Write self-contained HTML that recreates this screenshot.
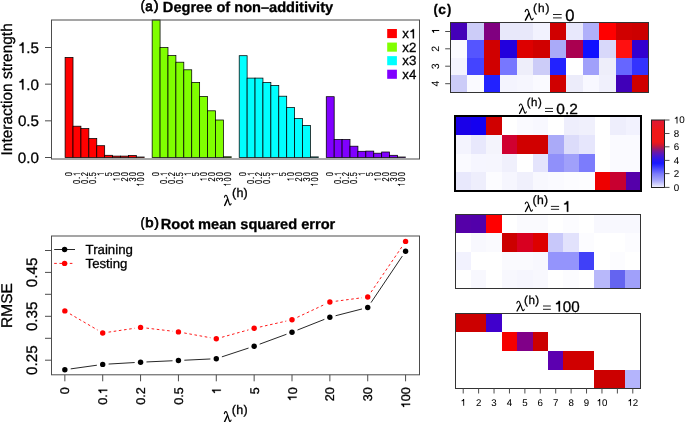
<!DOCTYPE html>
<html><head><meta charset="utf-8"><style>
html,body{margin:0;padding:0;background:#fff;width:685px;height:422px;overflow:hidden}
svg{display:block;will-change:transform}
text{font-family:"Liberation Sans", sans-serif;fill:#000;stroke:#000;stroke-width:0.3px;text-rendering:geometricPrecision}
.hv text{stroke-width:0.75px}
text.sm{stroke-width:0.05px}
.bl text.sm{stroke-width:0.15px}
</style></head><body>
<svg xmlns="http://www.w3.org/2000/svg" width="685" height="422" viewBox="0 0 685 422">
<rect width="685" height="422" fill="#fff"/>
<g class="hv">
<text transform="translate(140.82 9.69) scale(0.847 1)" font-size="13.37">(</text>
<text transform="translate(145.36 10.86) scale(0.945 1)" font-size="14.18">a</text>
<text transform="translate(153.93 9.69) scale(1.016 1)" font-size="13.37">)</text>
</g>
<text transform="translate(162.85 11.80)" font-size="14.60" font-weight="bold">Degree of non–additivity</text>
<g stroke="#000" stroke-width="0.75">
<rect x="65.10" y="57.40" width="7.91" height="100.10" fill="#FF0000"/>
<rect x="73.02" y="126.20" width="7.91" height="31.30" fill="#FF0000"/>
<rect x="80.93" y="128.60" width="7.91" height="28.90" fill="#FF0000"/>
<rect x="88.85" y="138.50" width="7.91" height="19.00" fill="#FF0000"/>
<rect x="96.76" y="145.70" width="7.91" height="11.80" fill="#FF0000"/>
<rect x="104.67" y="155.30" width="7.91" height="2.20" fill="#FF0000"/>
<rect x="112.59" y="156.10" width="7.91" height="1.40" fill="#FF0000"/>
<rect x="120.50" y="156.10" width="7.91" height="1.40" fill="#FF0000"/>
<rect x="128.42" y="155.50" width="7.91" height="2.00" fill="#FF0000"/>
<rect x="136.33" y="157.00" width="7.91" height="0.50" fill="#FF0000"/>
<rect x="152.16" y="20.00" width="7.91" height="137.50" fill="#80FF00"/>
<rect x="160.07" y="47.60" width="7.91" height="109.90" fill="#80FF00"/>
<rect x="167.99" y="55.60" width="7.91" height="101.90" fill="#80FF00"/>
<rect x="175.90" y="62.20" width="7.91" height="95.30" fill="#80FF00"/>
<rect x="183.81" y="69.80" width="7.91" height="87.70" fill="#80FF00"/>
<rect x="191.73" y="82.40" width="7.91" height="75.10" fill="#80FF00"/>
<rect x="199.64" y="96.50" width="7.91" height="61.00" fill="#80FF00"/>
<rect x="207.56" y="110.80" width="7.91" height="46.70" fill="#80FF00"/>
<rect x="215.47" y="120.00" width="7.91" height="37.50" fill="#80FF00"/>
<rect x="223.38" y="156.80" width="7.91" height="0.70" fill="#80FF00"/>
<rect x="239.21" y="55.70" width="7.91" height="101.80" fill="#00FFFF"/>
<rect x="247.13" y="78.10" width="7.91" height="79.40" fill="#00FFFF"/>
<rect x="255.04" y="78.10" width="7.91" height="79.40" fill="#00FFFF"/>
<rect x="262.95" y="82.50" width="7.91" height="75.00" fill="#00FFFF"/>
<rect x="270.87" y="85.40" width="7.91" height="72.10" fill="#00FFFF"/>
<rect x="278.78" y="96.20" width="7.91" height="61.30" fill="#00FFFF"/>
<rect x="286.70" y="107.50" width="7.91" height="50.00" fill="#00FFFF"/>
<rect x="294.61" y="118.50" width="7.91" height="39.00" fill="#00FFFF"/>
<rect x="302.52" y="125.40" width="7.91" height="32.10" fill="#00FFFF"/>
<rect x="310.44" y="156.90" width="7.91" height="0.60" fill="#00FFFF"/>
<rect x="326.27" y="96.70" width="7.91" height="60.80" fill="#8000FF"/>
<rect x="334.18" y="139.50" width="7.91" height="18.00" fill="#8000FF"/>
<rect x="342.09" y="139.50" width="7.91" height="18.00" fill="#8000FF"/>
<rect x="350.01" y="146.20" width="7.91" height="11.30" fill="#8000FF"/>
<rect x="357.92" y="151.30" width="7.91" height="6.20" fill="#8000FF"/>
<rect x="365.84" y="151.10" width="7.91" height="6.40" fill="#8000FF"/>
<rect x="373.75" y="153.20" width="7.91" height="4.30" fill="#8000FF"/>
<rect x="381.66" y="152.00" width="7.91" height="5.50" fill="#8000FF"/>
<rect x="389.58" y="155.30" width="7.91" height="2.20" fill="#8000FF"/>
<rect x="397.49" y="157.00" width="7.91" height="0.50" fill="#8000FF"/>
</g>
<rect x="51.5" y="20" width="368" height="139" fill="none" stroke="#4d4d4d" stroke-width="1"/>
<path d="M45 157.5 H51.5" stroke="#4d4d4d" stroke-width="1"/>
<text transform="translate(17.80 162.90)" font-size="15.20">0.0</text>
<path d="M45 120.83 H51.5" stroke="#4d4d4d" stroke-width="1"/>
<text transform="translate(17.88 126.23)" font-size="15.20">0.5</text>
<path d="M45 84.17 H51.5" stroke="#4d4d4d" stroke-width="1"/>
<text transform="translate(17.80 89.57)" font-size="15.20" style="font-kerning:none"> .0</text><path transform="translate(17.80 89.57) translate(0.000 0) scale(0.00742 -0.00742)" d="M763,0 L583,0 L583,1000 Q420,1000 223,960 L223,1110 Q420,1150 500,1260 Q545,1330 560,1409 L763,1409 Z" stroke="#000" stroke-width="0.3" vector-effect="non-scaling-stroke"/>
<path d="M45 47.5 H51.5" stroke="#4d4d4d" stroke-width="1"/>
<text transform="translate(17.88 52.90)" font-size="15.20" style="font-kerning:none"> .5</text><path transform="translate(17.88 52.90) translate(0.000 0) scale(0.00742 -0.00742)" d="M763,0 L583,0 L583,1000 Q420,1000 223,960 L223,1110 Q420,1150 500,1260 Q545,1330 560,1409 L763,1409 Z" stroke="#000" stroke-width="0.3" vector-effect="non-scaling-stroke"/>
<text transform="translate(11.60 155.42) rotate(-90)" font-size="15.45">Interaction strength</text>
<g class="bl"><text transform="translate(72.31 176.71) rotate(-90) translate(2.628 0) scale(0.74 1) translate(-2.781 0)" font-size="10.00" class="sm">0</text></g>
<g class="bl"><text transform="translate(80.22 184.59) rotate(-90) translate(2.628 0) scale(0.74 1) translate(-2.781 0)" font-size="10.00" class="sm">0</text><text transform="translate(80.22 184.59) rotate(-90) translate(6.568 0) scale(0.74 1) translate(-1.389 0)" font-size="10.00" class="sm">.</text><text transform="translate(80.22 184.59) rotate(-90) translate(10.509 0) scale(0.74 1) translate(-2.781 0)" font-size="10.00" class="sm" style="font-kerning:none"> </text><path transform="translate(80.22 184.59) rotate(-90) translate(10.509 0) scale(0.74 1) translate(-2.781 0) translate(0.000 0) scale(0.00488 -0.00488)" d="M763,0 L583,0 L583,1000 Q420,1000 223,960 L223,1110 Q420,1150 500,1260 Q545,1330 560,1409 L763,1409 Z" stroke="#000" stroke-width="0.05" vector-effect="non-scaling-stroke"/></g>
<g class="bl"><text transform="translate(88.14 184.59) rotate(-90) translate(2.628 0) scale(0.74 1) translate(-2.781 0)" font-size="10.00" class="sm">0</text><text transform="translate(88.14 184.59) rotate(-90) translate(6.568 0) scale(0.74 1) translate(-1.389 0)" font-size="10.00" class="sm">.</text><text transform="translate(88.14 184.59) rotate(-90) translate(10.509 0) scale(0.74 1) translate(-2.781 0)" font-size="10.00" class="sm">2</text></g>
<g class="bl"><text transform="translate(96.05 184.59) rotate(-90) translate(2.628 0) scale(0.74 1) translate(-2.781 0)" font-size="10.00" class="sm">0</text><text transform="translate(96.05 184.59) rotate(-90) translate(6.568 0) scale(0.74 1) translate(-1.389 0)" font-size="10.00" class="sm">.</text><text transform="translate(96.05 184.59) rotate(-90) translate(10.509 0) scale(0.74 1) translate(-2.781 0)" font-size="10.00" class="sm">5</text></g>
<g class="bl"><text transform="translate(103.97 176.71) rotate(-90) translate(2.628 0) scale(0.74 1) translate(-2.781 0)" font-size="10.00" class="sm" style="font-kerning:none"> </text><path transform="translate(103.97 176.71) rotate(-90) translate(2.628 0) scale(0.74 1) translate(-2.781 0) translate(0.000 0) scale(0.00488 -0.00488)" d="M763,0 L583,0 L583,1000 Q420,1000 223,960 L223,1110 Q420,1150 500,1260 Q545,1330 560,1409 L763,1409 Z" stroke="#000" stroke-width="0.05" vector-effect="non-scaling-stroke"/></g>
<g class="bl"><text transform="translate(111.88 176.71) rotate(-90) translate(2.628 0) scale(0.74 1) translate(-2.781 0)" font-size="10.00" class="sm">5</text></g>
<g class="bl"><text transform="translate(119.79 181.96) rotate(-90) translate(2.628 0) scale(0.74 1) translate(-2.781 0)" font-size="10.00" class="sm" style="font-kerning:none"> </text><path transform="translate(119.79 181.96) rotate(-90) translate(2.628 0) scale(0.74 1) translate(-2.781 0) translate(0.000 0) scale(0.00488 -0.00488)" d="M763,0 L583,0 L583,1000 Q420,1000 223,960 L223,1110 Q420,1150 500,1260 Q545,1330 560,1409 L763,1409 Z" stroke="#000" stroke-width="0.05" vector-effect="non-scaling-stroke"/><text transform="translate(119.79 181.96) rotate(-90) translate(7.883 0) scale(0.74 1) translate(-2.781 0)" font-size="10.00" class="sm">0</text></g>
<g class="bl"><text transform="translate(127.71 181.96) rotate(-90) translate(2.628 0) scale(0.74 1) translate(-2.781 0)" font-size="10.00" class="sm">2</text><text transform="translate(127.71 181.96) rotate(-90) translate(7.883 0) scale(0.74 1) translate(-2.781 0)" font-size="10.00" class="sm">0</text></g>
<g class="bl"><text transform="translate(135.62 181.96) rotate(-90) translate(2.628 0) scale(0.74 1) translate(-2.781 0)" font-size="10.00" class="sm">3</text><text transform="translate(135.62 181.96) rotate(-90) translate(7.883 0) scale(0.74 1) translate(-2.781 0)" font-size="10.00" class="sm">0</text></g>
<g class="bl"><text transform="translate(143.54 187.22) rotate(-90) translate(2.628 0) scale(0.74 1) translate(-2.781 0)" font-size="10.00" class="sm" style="font-kerning:none"> </text><path transform="translate(143.54 187.22) rotate(-90) translate(2.628 0) scale(0.74 1) translate(-2.781 0) translate(0.000 0) scale(0.00488 -0.00488)" d="M763,0 L583,0 L583,1000 Q420,1000 223,960 L223,1110 Q420,1150 500,1260 Q545,1330 560,1409 L763,1409 Z" stroke="#000" stroke-width="0.05" vector-effect="non-scaling-stroke"/><text transform="translate(143.54 187.22) rotate(-90) translate(7.883 0) scale(0.74 1) translate(-2.781 0)" font-size="10.00" class="sm">0</text><text transform="translate(143.54 187.22) rotate(-90) translate(13.139 0) scale(0.74 1) translate(-2.781 0)" font-size="10.00" class="sm">0</text></g>
<g class="bl"><text transform="translate(159.37 176.71) rotate(-90) translate(2.628 0) scale(0.74 1) translate(-2.781 0)" font-size="10.00" class="sm">0</text></g>
<g class="bl"><text transform="translate(167.28 184.59) rotate(-90) translate(2.628 0) scale(0.74 1) translate(-2.781 0)" font-size="10.00" class="sm">0</text><text transform="translate(167.28 184.59) rotate(-90) translate(6.568 0) scale(0.74 1) translate(-1.389 0)" font-size="10.00" class="sm">.</text><text transform="translate(167.28 184.59) rotate(-90) translate(10.509 0) scale(0.74 1) translate(-2.781 0)" font-size="10.00" class="sm" style="font-kerning:none"> </text><path transform="translate(167.28 184.59) rotate(-90) translate(10.509 0) scale(0.74 1) translate(-2.781 0) translate(0.000 0) scale(0.00488 -0.00488)" d="M763,0 L583,0 L583,1000 Q420,1000 223,960 L223,1110 Q420,1150 500,1260 Q545,1330 560,1409 L763,1409 Z" stroke="#000" stroke-width="0.05" vector-effect="non-scaling-stroke"/></g>
<g class="bl"><text transform="translate(175.19 184.59) rotate(-90) translate(2.628 0) scale(0.74 1) translate(-2.781 0)" font-size="10.00" class="sm">0</text><text transform="translate(175.19 184.59) rotate(-90) translate(6.568 0) scale(0.74 1) translate(-1.389 0)" font-size="10.00" class="sm">.</text><text transform="translate(175.19 184.59) rotate(-90) translate(10.509 0) scale(0.74 1) translate(-2.781 0)" font-size="10.00" class="sm">2</text></g>
<g class="bl"><text transform="translate(183.11 184.59) rotate(-90) translate(2.628 0) scale(0.74 1) translate(-2.781 0)" font-size="10.00" class="sm">0</text><text transform="translate(183.11 184.59) rotate(-90) translate(6.568 0) scale(0.74 1) translate(-1.389 0)" font-size="10.00" class="sm">.</text><text transform="translate(183.11 184.59) rotate(-90) translate(10.509 0) scale(0.74 1) translate(-2.781 0)" font-size="10.00" class="sm">5</text></g>
<g class="bl"><text transform="translate(191.02 176.71) rotate(-90) translate(2.628 0) scale(0.74 1) translate(-2.781 0)" font-size="10.00" class="sm" style="font-kerning:none"> </text><path transform="translate(191.02 176.71) rotate(-90) translate(2.628 0) scale(0.74 1) translate(-2.781 0) translate(0.000 0) scale(0.00488 -0.00488)" d="M763,0 L583,0 L583,1000 Q420,1000 223,960 L223,1110 Q420,1150 500,1260 Q545,1330 560,1409 L763,1409 Z" stroke="#000" stroke-width="0.05" vector-effect="non-scaling-stroke"/></g>
<g class="bl"><text transform="translate(198.94 176.71) rotate(-90) translate(2.628 0) scale(0.74 1) translate(-2.781 0)" font-size="10.00" class="sm">5</text></g>
<g class="bl"><text transform="translate(206.85 181.96) rotate(-90) translate(2.628 0) scale(0.74 1) translate(-2.781 0)" font-size="10.00" class="sm" style="font-kerning:none"> </text><path transform="translate(206.85 181.96) rotate(-90) translate(2.628 0) scale(0.74 1) translate(-2.781 0) translate(0.000 0) scale(0.00488 -0.00488)" d="M763,0 L583,0 L583,1000 Q420,1000 223,960 L223,1110 Q420,1150 500,1260 Q545,1330 560,1409 L763,1409 Z" stroke="#000" stroke-width="0.05" vector-effect="non-scaling-stroke"/><text transform="translate(206.85 181.96) rotate(-90) translate(7.883 0) scale(0.74 1) translate(-2.781 0)" font-size="10.00" class="sm">0</text></g>
<g class="bl"><text transform="translate(214.76 181.96) rotate(-90) translate(2.628 0) scale(0.74 1) translate(-2.781 0)" font-size="10.00" class="sm">2</text><text transform="translate(214.76 181.96) rotate(-90) translate(7.883 0) scale(0.74 1) translate(-2.781 0)" font-size="10.00" class="sm">0</text></g>
<g class="bl"><text transform="translate(222.68 181.96) rotate(-90) translate(2.628 0) scale(0.74 1) translate(-2.781 0)" font-size="10.00" class="sm">3</text><text transform="translate(222.68 181.96) rotate(-90) translate(7.883 0) scale(0.74 1) translate(-2.781 0)" font-size="10.00" class="sm">0</text></g>
<g class="bl"><text transform="translate(230.59 187.22) rotate(-90) translate(2.628 0) scale(0.74 1) translate(-2.781 0)" font-size="10.00" class="sm" style="font-kerning:none"> </text><path transform="translate(230.59 187.22) rotate(-90) translate(2.628 0) scale(0.74 1) translate(-2.781 0) translate(0.000 0) scale(0.00488 -0.00488)" d="M763,0 L583,0 L583,1000 Q420,1000 223,960 L223,1110 Q420,1150 500,1260 Q545,1330 560,1409 L763,1409 Z" stroke="#000" stroke-width="0.05" vector-effect="non-scaling-stroke"/><text transform="translate(230.59 187.22) rotate(-90) translate(7.883 0) scale(0.74 1) translate(-2.781 0)" font-size="10.00" class="sm">0</text><text transform="translate(230.59 187.22) rotate(-90) translate(13.139 0) scale(0.74 1) translate(-2.781 0)" font-size="10.00" class="sm">0</text></g>
<g class="bl"><text transform="translate(246.42 176.71) rotate(-90) translate(2.628 0) scale(0.74 1) translate(-2.781 0)" font-size="10.00" class="sm">0</text></g>
<g class="bl"><text transform="translate(254.33 184.59) rotate(-90) translate(2.628 0) scale(0.74 1) translate(-2.781 0)" font-size="10.00" class="sm">0</text><text transform="translate(254.33 184.59) rotate(-90) translate(6.568 0) scale(0.74 1) translate(-1.389 0)" font-size="10.00" class="sm">.</text><text transform="translate(254.33 184.59) rotate(-90) translate(10.509 0) scale(0.74 1) translate(-2.781 0)" font-size="10.00" class="sm" style="font-kerning:none"> </text><path transform="translate(254.33 184.59) rotate(-90) translate(10.509 0) scale(0.74 1) translate(-2.781 0) translate(0.000 0) scale(0.00488 -0.00488)" d="M763,0 L583,0 L583,1000 Q420,1000 223,960 L223,1110 Q420,1150 500,1260 Q545,1330 560,1409 L763,1409 Z" stroke="#000" stroke-width="0.05" vector-effect="non-scaling-stroke"/></g>
<g class="bl"><text transform="translate(262.25 184.59) rotate(-90) translate(2.628 0) scale(0.74 1) translate(-2.781 0)" font-size="10.00" class="sm">0</text><text transform="translate(262.25 184.59) rotate(-90) translate(6.568 0) scale(0.74 1) translate(-1.389 0)" font-size="10.00" class="sm">.</text><text transform="translate(262.25 184.59) rotate(-90) translate(10.509 0) scale(0.74 1) translate(-2.781 0)" font-size="10.00" class="sm">2</text></g>
<g class="bl"><text transform="translate(270.16 184.59) rotate(-90) translate(2.628 0) scale(0.74 1) translate(-2.781 0)" font-size="10.00" class="sm">0</text><text transform="translate(270.16 184.59) rotate(-90) translate(6.568 0) scale(0.74 1) translate(-1.389 0)" font-size="10.00" class="sm">.</text><text transform="translate(270.16 184.59) rotate(-90) translate(10.509 0) scale(0.74 1) translate(-2.781 0)" font-size="10.00" class="sm">5</text></g>
<g class="bl"><text transform="translate(278.07 176.71) rotate(-90) translate(2.628 0) scale(0.74 1) translate(-2.781 0)" font-size="10.00" class="sm" style="font-kerning:none"> </text><path transform="translate(278.07 176.71) rotate(-90) translate(2.628 0) scale(0.74 1) translate(-2.781 0) translate(0.000 0) scale(0.00488 -0.00488)" d="M763,0 L583,0 L583,1000 Q420,1000 223,960 L223,1110 Q420,1150 500,1260 Q545,1330 560,1409 L763,1409 Z" stroke="#000" stroke-width="0.05" vector-effect="non-scaling-stroke"/></g>
<g class="bl"><text transform="translate(285.99 176.71) rotate(-90) translate(2.628 0) scale(0.74 1) translate(-2.781 0)" font-size="10.00" class="sm">5</text></g>
<g class="bl"><text transform="translate(293.90 181.96) rotate(-90) translate(2.628 0) scale(0.74 1) translate(-2.781 0)" font-size="10.00" class="sm" style="font-kerning:none"> </text><path transform="translate(293.90 181.96) rotate(-90) translate(2.628 0) scale(0.74 1) translate(-2.781 0) translate(0.000 0) scale(0.00488 -0.00488)" d="M763,0 L583,0 L583,1000 Q420,1000 223,960 L223,1110 Q420,1150 500,1260 Q545,1330 560,1409 L763,1409 Z" stroke="#000" stroke-width="0.05" vector-effect="non-scaling-stroke"/><text transform="translate(293.90 181.96) rotate(-90) translate(7.883 0) scale(0.74 1) translate(-2.781 0)" font-size="10.00" class="sm">0</text></g>
<g class="bl"><text transform="translate(301.82 181.96) rotate(-90) translate(2.628 0) scale(0.74 1) translate(-2.781 0)" font-size="10.00" class="sm">2</text><text transform="translate(301.82 181.96) rotate(-90) translate(7.883 0) scale(0.74 1) translate(-2.781 0)" font-size="10.00" class="sm">0</text></g>
<g class="bl"><text transform="translate(309.73 181.96) rotate(-90) translate(2.628 0) scale(0.74 1) translate(-2.781 0)" font-size="10.00" class="sm">3</text><text transform="translate(309.73 181.96) rotate(-90) translate(7.883 0) scale(0.74 1) translate(-2.781 0)" font-size="10.00" class="sm">0</text></g>
<g class="bl"><text transform="translate(317.64 187.22) rotate(-90) translate(2.628 0) scale(0.74 1) translate(-2.781 0)" font-size="10.00" class="sm" style="font-kerning:none"> </text><path transform="translate(317.64 187.22) rotate(-90) translate(2.628 0) scale(0.74 1) translate(-2.781 0) translate(0.000 0) scale(0.00488 -0.00488)" d="M763,0 L583,0 L583,1000 Q420,1000 223,960 L223,1110 Q420,1150 500,1260 Q545,1330 560,1409 L763,1409 Z" stroke="#000" stroke-width="0.05" vector-effect="non-scaling-stroke"/><text transform="translate(317.64 187.22) rotate(-90) translate(7.883 0) scale(0.74 1) translate(-2.781 0)" font-size="10.00" class="sm">0</text><text transform="translate(317.64 187.22) rotate(-90) translate(13.139 0) scale(0.74 1) translate(-2.781 0)" font-size="10.00" class="sm">0</text></g>
<g class="bl"><text transform="translate(333.47 176.71) rotate(-90) translate(2.628 0) scale(0.74 1) translate(-2.781 0)" font-size="10.00" class="sm">0</text></g>
<g class="bl"><text transform="translate(341.39 184.59) rotate(-90) translate(2.628 0) scale(0.74 1) translate(-2.781 0)" font-size="10.00" class="sm">0</text><text transform="translate(341.39 184.59) rotate(-90) translate(6.568 0) scale(0.74 1) translate(-1.389 0)" font-size="10.00" class="sm">.</text><text transform="translate(341.39 184.59) rotate(-90) translate(10.509 0) scale(0.74 1) translate(-2.781 0)" font-size="10.00" class="sm" style="font-kerning:none"> </text><path transform="translate(341.39 184.59) rotate(-90) translate(10.509 0) scale(0.74 1) translate(-2.781 0) translate(0.000 0) scale(0.00488 -0.00488)" d="M763,0 L583,0 L583,1000 Q420,1000 223,960 L223,1110 Q420,1150 500,1260 Q545,1330 560,1409 L763,1409 Z" stroke="#000" stroke-width="0.05" vector-effect="non-scaling-stroke"/></g>
<g class="bl"><text transform="translate(349.30 184.59) rotate(-90) translate(2.628 0) scale(0.74 1) translate(-2.781 0)" font-size="10.00" class="sm">0</text><text transform="translate(349.30 184.59) rotate(-90) translate(6.568 0) scale(0.74 1) translate(-1.389 0)" font-size="10.00" class="sm">.</text><text transform="translate(349.30 184.59) rotate(-90) translate(10.509 0) scale(0.74 1) translate(-2.781 0)" font-size="10.00" class="sm">2</text></g>
<g class="bl"><text transform="translate(357.21 184.59) rotate(-90) translate(2.628 0) scale(0.74 1) translate(-2.781 0)" font-size="10.00" class="sm">0</text><text transform="translate(357.21 184.59) rotate(-90) translate(6.568 0) scale(0.74 1) translate(-1.389 0)" font-size="10.00" class="sm">.</text><text transform="translate(357.21 184.59) rotate(-90) translate(10.509 0) scale(0.74 1) translate(-2.781 0)" font-size="10.00" class="sm">5</text></g>
<g class="bl"><text transform="translate(365.13 176.71) rotate(-90) translate(2.628 0) scale(0.74 1) translate(-2.781 0)" font-size="10.00" class="sm" style="font-kerning:none"> </text><path transform="translate(365.13 176.71) rotate(-90) translate(2.628 0) scale(0.74 1) translate(-2.781 0) translate(0.000 0) scale(0.00488 -0.00488)" d="M763,0 L583,0 L583,1000 Q420,1000 223,960 L223,1110 Q420,1150 500,1260 Q545,1330 560,1409 L763,1409 Z" stroke="#000" stroke-width="0.05" vector-effect="non-scaling-stroke"/></g>
<g class="bl"><text transform="translate(373.04 176.71) rotate(-90) translate(2.628 0) scale(0.74 1) translate(-2.781 0)" font-size="10.00" class="sm">5</text></g>
<g class="bl"><text transform="translate(380.96 181.96) rotate(-90) translate(2.628 0) scale(0.74 1) translate(-2.781 0)" font-size="10.00" class="sm" style="font-kerning:none"> </text><path transform="translate(380.96 181.96) rotate(-90) translate(2.628 0) scale(0.74 1) translate(-2.781 0) translate(0.000 0) scale(0.00488 -0.00488)" d="M763,0 L583,0 L583,1000 Q420,1000 223,960 L223,1110 Q420,1150 500,1260 Q545,1330 560,1409 L763,1409 Z" stroke="#000" stroke-width="0.05" vector-effect="non-scaling-stroke"/><text transform="translate(380.96 181.96) rotate(-90) translate(7.883 0) scale(0.74 1) translate(-2.781 0)" font-size="10.00" class="sm">0</text></g>
<g class="bl"><text transform="translate(388.87 181.96) rotate(-90) translate(2.628 0) scale(0.74 1) translate(-2.781 0)" font-size="10.00" class="sm">2</text><text transform="translate(388.87 181.96) rotate(-90) translate(7.883 0) scale(0.74 1) translate(-2.781 0)" font-size="10.00" class="sm">0</text></g>
<g class="bl"><text transform="translate(396.78 181.96) rotate(-90) translate(2.628 0) scale(0.74 1) translate(-2.781 0)" font-size="10.00" class="sm">3</text><text transform="translate(396.78 181.96) rotate(-90) translate(7.883 0) scale(0.74 1) translate(-2.781 0)" font-size="10.00" class="sm">0</text></g>
<g class="bl"><text transform="translate(404.70 187.22) rotate(-90) translate(2.628 0) scale(0.74 1) translate(-2.781 0)" font-size="10.00" class="sm" style="font-kerning:none"> </text><path transform="translate(404.70 187.22) rotate(-90) translate(2.628 0) scale(0.74 1) translate(-2.781 0) translate(0.000 0) scale(0.00488 -0.00488)" d="M763,0 L583,0 L583,1000 Q420,1000 223,960 L223,1110 Q420,1150 500,1260 Q545,1330 560,1409 L763,1409 Z" stroke="#000" stroke-width="0.05" vector-effect="non-scaling-stroke"/><text transform="translate(404.70 187.22) rotate(-90) translate(7.883 0) scale(0.74 1) translate(-2.781 0)" font-size="10.00" class="sm">0</text><text transform="translate(404.70 187.22) rotate(-90) translate(13.139 0) scale(0.74 1) translate(-2.781 0)" font-size="10.00" class="sm">0</text></g>
<path d="M224.47,197.18 C224.87,195.00 226.47,194.35 227.13,196.74 L229.40,204.13 C229.80,205.43 230.60,205.43 231.13,203.69" fill="none" stroke="#000" stroke-width="1.14" stroke-linecap="round"/><path d="M227.53,199.13 L224.67,205.43" fill="none" stroke="#000" stroke-width="1.43" stroke-linecap="round"/>
<text transform="translate(232.05 197.37)" font-size="12.51">(</text><text transform="translate(236.43 197.37)" font-size="12.51">h</text><text transform="translate(243.61 197.37)" font-size="12.51">)</text>
<rect x="387.2" y="29.00" width="9.7" height="9.1" fill="#FF0000"/>
<text transform="translate(402.37 38.30)" font-size="13.30" style="font-kerning:none">x </text><path transform="translate(402.37 38.30) translate(6.650 0) scale(0.00649 -0.00649)" d="M763,0 L583,0 L583,1000 Q420,1000 223,960 L223,1110 Q420,1150 500,1260 Q545,1330 560,1409 L763,1409 Z" stroke="#000" stroke-width="0.3" vector-effect="non-scaling-stroke"/>
<rect x="387.2" y="42.57" width="9.7" height="9.1" fill="#80FF00"/>
<text transform="translate(402.37 51.87)" font-size="13.30">x2</text>
<rect x="387.2" y="56.14" width="9.7" height="9.1" fill="#00FFFF"/>
<text transform="translate(402.37 65.44)" font-size="13.30">x3</text>
<rect x="387.2" y="69.71" width="9.7" height="9.1" fill="#8000FF"/>
<text transform="translate(402.37 79.01)" font-size="13.30">x4</text>
<g class="hv">
<text transform="translate(140.77 226.64) scale(0.803 1)" font-size="13.16">(</text>
<text transform="translate(145.33 226.57) scale(1.152 1)" font-size="12.93">b</text>
<text transform="translate(154.53 226.64)" font-size="13.16">)</text>
</g>
<text transform="translate(160.75 228.60)" font-size="14.62" font-weight="bold">Root mean squared error</text>
<rect x="51.5" y="236" width="368" height="138.8" fill="none" stroke="#4d4d4d" stroke-width="1"/>
<path d="M45 360.2 H51.5" stroke="#4d4d4d" stroke-width="1"/>
<path d="M45 338.3 H51.5" stroke="#4d4d4d" stroke-width="1"/>
<path d="M45 316.3 H51.5" stroke="#4d4d4d" stroke-width="1"/>
<path d="M45 294.3 H51.5" stroke="#4d4d4d" stroke-width="1"/>
<path d="M45 272.4 H51.5" stroke="#4d4d4d" stroke-width="1"/>
<path d="M45 250.5 H51.5" stroke="#4d4d4d" stroke-width="1"/>
<text transform="translate(37.40 374.98) rotate(-90)" font-size="15.20">0.25</text>
<text transform="translate(37.40 331.08) rotate(-90)" font-size="15.20">0.35</text>
<text transform="translate(37.40 287.18) rotate(-90)" font-size="15.20">0.45</text>
<text transform="translate(11.64 327.94) rotate(-90)" font-size="15.52">RMSE</text>
<path d="M64.85 374.8 V381.3" stroke="#4d4d4d" stroke-width="1"/>
<text transform="translate(69.35 394.36) rotate(-90)" font-size="12.60">0</text>
<path d="M102.71 374.8 V381.3" stroke="#4d4d4d" stroke-width="1"/>
<text transform="translate(107.21 404.87) rotate(-90)" font-size="12.60" style="font-kerning:none">0. </text><path transform="translate(107.21 404.87) rotate(-90) translate(10.508 0) scale(0.00615 -0.00615)" d="M763,0 L583,0 L583,1000 Q420,1000 223,960 L223,1110 Q420,1150 500,1260 Q545,1330 560,1409 L763,1409 Z" stroke="#000" stroke-width="0.3" vector-effect="non-scaling-stroke"/>
<path d="M140.57 374.8 V381.3" stroke="#4d4d4d" stroke-width="1"/>
<text transform="translate(145.07 404.87) rotate(-90)" font-size="12.60">0.2</text>
<path d="M178.43 374.8 V381.3" stroke="#4d4d4d" stroke-width="1"/>
<text transform="translate(182.93 404.87) rotate(-90)" font-size="12.60">0.5</text>
<path d="M216.29 374.8 V381.3" stroke="#4d4d4d" stroke-width="1"/>
<text transform="translate(220.79 394.36) rotate(-90)" font-size="12.60" style="font-kerning:none"> </text><path transform="translate(220.79 394.36) rotate(-90) translate(0.000 0) scale(0.00615 -0.00615)" d="M763,0 L583,0 L583,1000 Q420,1000 223,960 L223,1110 Q420,1150 500,1260 Q545,1330 560,1409 L763,1409 Z" stroke="#000" stroke-width="0.3" vector-effect="non-scaling-stroke"/>
<path d="M254.15 374.8 V381.3" stroke="#4d4d4d" stroke-width="1"/>
<text transform="translate(258.65 394.36) rotate(-90)" font-size="12.60">5</text>
<path d="M292.01 374.8 V381.3" stroke="#4d4d4d" stroke-width="1"/>
<text transform="translate(296.51 401.37) rotate(-90)" font-size="12.60" style="font-kerning:none"> 0</text><path transform="translate(296.51 401.37) rotate(-90) translate(0.000 0) scale(0.00615 -0.00615)" d="M763,0 L583,0 L583,1000 Q420,1000 223,960 L223,1110 Q420,1150 500,1260 Q545,1330 560,1409 L763,1409 Z" stroke="#000" stroke-width="0.3" vector-effect="non-scaling-stroke"/>
<path d="M329.87 374.8 V381.3" stroke="#4d4d4d" stroke-width="1"/>
<text transform="translate(334.37 401.37) rotate(-90)" font-size="12.60">20</text>
<path d="M367.73 374.8 V381.3" stroke="#4d4d4d" stroke-width="1"/>
<text transform="translate(372.23 401.37) rotate(-90)" font-size="12.60">30</text>
<path d="M405.59 374.8 V381.3" stroke="#4d4d4d" stroke-width="1"/>
<text transform="translate(410.09 408.37) rotate(-90)" font-size="12.60" style="font-kerning:none"> 00</text><path transform="translate(410.09 408.37) rotate(-90) translate(0.000 0) scale(0.00615 -0.00615)" d="M763,0 L583,0 L583,1000 Q420,1000 223,960 L223,1110 Q420,1150 500,1260 Q545,1330 560,1409 L763,1409 Z" stroke="#000" stroke-width="0.3" vector-effect="non-scaling-stroke"/>
<path d="M70.69 368.88 L96.87 365.22 M108.60 364.06 L134.68 362.54 M146.46 361.94 L172.54 360.76 M184.32 360.22 L210.40 358.98 M221.89 356.85 L248.55 348.05 M259.68 344.15 L286.48 334.25 M297.50 330.03 L324.38 319.37 M335.59 315.74 L362.01 308.96 M371.02 302.60 L402.30 256.10 " stroke="#000" stroke-width="0.85" fill="none"/>
<path d="M69.95 313.87 L97.61 330.03 M108.55 332.14 L134.73 328.26 M146.43 328.10 L172.57 331.20 M184.23 332.96 L210.49 337.74 M221.98 337.22 L248.46 329.88 M259.91 327.01 L286.25 321.09 M297.35 317.29 L324.53 304.51 M335.72 301.23 L361.88 297.77 M371.05 292.12 L402.27 246.28 " stroke="#FF0000" stroke-width="0.9" fill="none" stroke-dasharray="2.6 2.6"/>
<circle cx="64.85" cy="369.70" r="2.7" fill="#000"/>
<circle cx="102.71" cy="364.40" r="2.7" fill="#000"/>
<circle cx="140.57" cy="362.20" r="2.7" fill="#000"/>
<circle cx="178.43" cy="360.50" r="2.7" fill="#000"/>
<circle cx="216.29" cy="358.70" r="2.7" fill="#000"/>
<circle cx="254.15" cy="346.20" r="2.7" fill="#000"/>
<circle cx="292.01" cy="332.20" r="2.7" fill="#000"/>
<circle cx="329.87" cy="317.20" r="2.7" fill="#000"/>
<circle cx="367.73" cy="307.50" r="2.7" fill="#000"/>
<circle cx="405.59" cy="251.20" r="2.7" fill="#000"/>
<circle cx="64.85" cy="310.90" r="2.7" fill="#FF0000"/>
<circle cx="102.71" cy="333.00" r="2.7" fill="#FF0000"/>
<circle cx="140.57" cy="327.40" r="2.7" fill="#FF0000"/>
<circle cx="178.43" cy="331.90" r="2.7" fill="#FF0000"/>
<circle cx="216.29" cy="338.80" r="2.7" fill="#FF0000"/>
<circle cx="254.15" cy="328.30" r="2.7" fill="#FF0000"/>
<circle cx="292.01" cy="319.80" r="2.7" fill="#FF0000"/>
<circle cx="329.87" cy="302.00" r="2.7" fill="#FF0000"/>
<circle cx="367.73" cy="297.00" r="2.7" fill="#FF0000"/>
<circle cx="405.59" cy="241.40" r="2.7" fill="#FF0000"/>
<path d="M54.2 249.5 H75" stroke="#000" stroke-width="0.85"/>
<circle cx="64.6" cy="249.5" r="2.7" fill="#000"/>
<path d="M54.2 263.4 H75" stroke="#FF0000" stroke-width="0.9" stroke-dasharray="2.6 2.6"/>
<circle cx="64.6" cy="263.4" r="2.7" fill="#FF0000"/>
<text transform="translate(85.54 254.10)" font-size="13.24">Training</text>
<text transform="translate(85.54 267.90)" font-size="13.20">Testing</text>
<path d="M224.37,413.58 C224.77,411.40 226.37,410.75 227.03,413.14 L229.30,420.53 C229.70,421.83 230.50,421.83 231.03,420.09" fill="none" stroke="#000" stroke-width="1.14" stroke-linecap="round"/><path d="M227.43,415.53 L224.57,421.83" fill="none" stroke="#000" stroke-width="1.43" stroke-linecap="round"/>
<text transform="translate(231.85 413.77)" font-size="12.51">(</text><text transform="translate(236.23 413.77)" font-size="12.51">h</text><text transform="translate(243.41 413.77)" font-size="12.51">)</text>
<text transform="translate(433.56 13.98) scale(0.925 1)" font-size="13.90" font-weight="bold">(</text>
<text transform="translate(438.35 13.96) scale(1.013 1)" font-size="13.64" font-weight="bold">c</text>
<text transform="translate(446.90 13.98) scale(0.934 1)" font-size="13.90" font-weight="bold">)</text>
<g shape-rendering="crispEdges"><rect x="450.50" y="22.50" width="16.80" height="17.80" fill="#4400B8"/><rect x="467.00" y="22.50" width="16.80" height="17.80" fill="#CCCCF8"/><rect x="483.50" y="22.50" width="16.80" height="17.80" fill="#800080"/><rect x="500.00" y="22.50" width="16.80" height="17.80" fill="#E8E8FA"/><rect x="516.50" y="22.50" width="16.80" height="17.80" fill="#E8E8FA"/><rect x="533.00" y="22.50" width="16.80" height="17.80" fill="#F2F2FE"/><rect x="549.50" y="22.50" width="16.80" height="17.80" fill="#D00000"/><rect x="566.00" y="22.50" width="16.80" height="17.80" fill="#E8E8FC"/><rect x="582.50" y="22.50" width="16.80" height="17.80" fill="#B0B0FA"/><rect x="599.00" y="22.50" width="16.80" height="17.80" fill="#FF0000"/><rect x="615.50" y="22.50" width="16.80" height="17.80" fill="#D00000"/><rect x="632.00" y="22.50" width="16.80" height="17.80" fill="#CC0000"/><rect x="450.50" y="40.00" width="16.80" height="17.80" fill="#FBFBFF"/><rect x="467.00" y="40.00" width="16.80" height="17.80" fill="#5555FF"/><rect x="483.50" y="40.00" width="16.80" height="17.80" fill="#D00000"/><rect x="500.00" y="40.00" width="16.80" height="17.80" fill="#2200DD"/><rect x="516.50" y="40.00" width="16.80" height="17.80" fill="#DD0000"/><rect x="533.00" y="40.00" width="16.80" height="17.80" fill="#D00000"/><rect x="549.50" y="40.00" width="16.80" height="17.80" fill="#AAAAF8"/><rect x="566.00" y="40.00" width="16.80" height="17.80" fill="#AA0050"/><rect x="582.50" y="40.00" width="16.80" height="17.80" fill="#1010FF"/><rect x="599.00" y="40.00" width="16.80" height="17.80" fill="#D8D8FA"/><rect x="615.50" y="40.00" width="16.80" height="17.80" fill="#FF1010"/><rect x="632.00" y="40.00" width="16.80" height="17.80" fill="#3300D0"/><rect x="450.50" y="57.50" width="16.80" height="17.80" fill="#F4F4FE"/><rect x="467.00" y="57.50" width="16.80" height="17.80" fill="#4444FF"/><rect x="483.50" y="57.50" width="16.80" height="17.80" fill="#D00000"/><rect x="500.00" y="57.50" width="16.80" height="17.80" fill="#7777FF"/><rect x="516.50" y="57.50" width="16.80" height="17.80" fill="#EEEEFA"/><rect x="533.00" y="57.50" width="16.80" height="17.80" fill="#CCCCF8"/><rect x="549.50" y="57.50" width="16.80" height="17.80" fill="#2222FF"/><rect x="566.00" y="57.50" width="16.80" height="17.80" fill="#FFFFFF"/><rect x="582.50" y="57.50" width="16.80" height="17.80" fill="#A0A0FA"/><rect x="599.00" y="57.50" width="16.80" height="17.80" fill="#EEEEFA"/><rect x="615.50" y="57.50" width="16.80" height="17.80" fill="#6666FF"/><rect x="632.00" y="57.50" width="16.80" height="17.80" fill="#3333FF"/><rect x="450.50" y="75.00" width="16.80" height="17.80" fill="#CCCCF8"/><rect x="467.00" y="75.00" width="16.80" height="17.80" fill="#FAFAFF"/><rect x="483.50" y="75.00" width="16.80" height="17.80" fill="#2222FF"/><rect x="500.00" y="75.00" width="16.80" height="17.80" fill="#F4F4FE"/><rect x="516.50" y="75.00" width="16.80" height="17.80" fill="#F6F6FE"/><rect x="533.00" y="75.00" width="16.80" height="17.80" fill="#FAFAFF"/><rect x="549.50" y="75.00" width="16.80" height="17.80" fill="#D00000"/><rect x="566.00" y="75.00" width="16.80" height="17.80" fill="#ECECFA"/><rect x="582.50" y="75.00" width="16.80" height="17.80" fill="#F8F8FF"/><rect x="599.00" y="75.00" width="16.80" height="17.80" fill="#F0F0FC"/><rect x="615.50" y="75.00" width="16.80" height="17.80" fill="#4000B8"/><rect x="632.00" y="75.00" width="16.80" height="17.80" fill="#D00000"/></g>
<rect x="450.5" y="22.5" width="198" height="70" fill="none" stroke="#333" stroke-width="1"/>
<path d="M445.2 31.5 H450.5" stroke="#4d4d4d" stroke-width="1"/>
<text transform="translate(439.20 34.05) rotate(-90)" font-size="10.60" class="sm" style="font-kerning:none"> </text><path transform="translate(439.20 34.05) rotate(-90) translate(0.000 0) scale(0.00518 -0.00518)" d="M763,0 L583,0 L583,1000 Q420,1000 223,960 L223,1110 Q420,1150 500,1260 Q545,1330 560,1409 L763,1409 Z" stroke="#000" stroke-width="0.05" vector-effect="non-scaling-stroke"/>
<path d="M445.2 48.8 H450.5" stroke="#4d4d4d" stroke-width="1"/>
<text transform="translate(439.20 51.74) rotate(-90)" font-size="10.60" class="sm">2</text>
<path d="M445.2 66.2 H450.5" stroke="#4d4d4d" stroke-width="1"/>
<text transform="translate(439.20 69.14) rotate(-90)" font-size="10.60" class="sm">3</text>
<path d="M445.2 83.7 H450.5" stroke="#4d4d4d" stroke-width="1"/>
<text transform="translate(439.20 86.59) rotate(-90)" font-size="10.60" class="sm">4</text>
<g shape-rendering="crispEdges"><rect x="455.00" y="116.00" width="15.80" height="19.05" fill="#1A00E8"/><rect x="470.50" y="116.00" width="15.80" height="19.05" fill="#1400F0"/><rect x="486.00" y="116.00" width="15.80" height="19.05" fill="#D00000"/><rect x="501.50" y="116.00" width="15.80" height="19.05" fill="#FFFFFF"/><rect x="517.00" y="116.00" width="15.80" height="19.05" fill="#FAFAFF"/><rect x="532.50" y="116.00" width="15.80" height="19.05" fill="#F8F8FF"/><rect x="548.00" y="116.00" width="15.80" height="19.05" fill="#FFFFFF"/><rect x="563.50" y="116.00" width="15.80" height="19.05" fill="#EEEEFC"/><rect x="579.00" y="116.00" width="15.80" height="19.05" fill="#F0F0FC"/><rect x="594.50" y="116.00" width="15.80" height="19.05" fill="#FFFFFF"/><rect x="610.00" y="116.00" width="15.80" height="19.05" fill="#EEEEFC"/><rect x="625.50" y="116.00" width="15.80" height="19.05" fill="#F2F2FE"/><rect x="455.00" y="134.75" width="15.80" height="19.05" fill="#F4F4FE"/><rect x="470.50" y="134.75" width="15.80" height="19.05" fill="#E8E8FC"/><rect x="486.00" y="134.75" width="15.80" height="19.05" fill="#F4F4FC"/><rect x="501.50" y="134.75" width="15.80" height="19.05" fill="#D00030"/><rect x="517.00" y="134.75" width="15.80" height="19.05" fill="#D00000"/><rect x="532.50" y="134.75" width="15.80" height="19.05" fill="#D00000"/><rect x="548.00" y="134.75" width="15.80" height="19.05" fill="#AAAAF8"/><rect x="563.50" y="134.75" width="15.80" height="19.05" fill="#DCDCFA"/><rect x="579.00" y="134.75" width="15.80" height="19.05" fill="#E6E6FC"/><rect x="594.50" y="134.75" width="15.80" height="19.05" fill="#FFFFFF"/><rect x="610.00" y="134.75" width="15.80" height="19.05" fill="#FAFAFF"/><rect x="625.50" y="134.75" width="15.80" height="19.05" fill="#FAFAFF"/><rect x="455.00" y="153.50" width="15.80" height="19.05" fill="#FAFAFF"/><rect x="470.50" y="153.50" width="15.80" height="19.05" fill="#F6F6FF"/><rect x="486.00" y="153.50" width="15.80" height="19.05" fill="#F6F6FE"/><rect x="501.50" y="153.50" width="15.80" height="19.05" fill="#F0F0FC"/><rect x="517.00" y="153.50" width="15.80" height="19.05" fill="#FFFFFF"/><rect x="532.50" y="153.50" width="15.80" height="19.05" fill="#E4E4FC"/><rect x="548.00" y="153.50" width="15.80" height="19.05" fill="#9090FA"/><rect x="563.50" y="153.50" width="15.80" height="19.05" fill="#A0A0FA"/><rect x="579.00" y="153.50" width="15.80" height="19.05" fill="#7C7CFC"/><rect x="594.50" y="153.50" width="15.80" height="19.05" fill="#FFFFFF"/><rect x="610.00" y="153.50" width="15.80" height="19.05" fill="#FAFAFF"/><rect x="625.50" y="153.50" width="15.80" height="19.05" fill="#FAFAFF"/><rect x="455.00" y="172.25" width="15.80" height="19.05" fill="#E8E8FC"/><rect x="470.50" y="172.25" width="15.80" height="19.05" fill="#EEEEFC"/><rect x="486.00" y="172.25" width="15.80" height="19.05" fill="#FCFCFF"/><rect x="501.50" y="172.25" width="15.80" height="19.05" fill="#F6F6FE"/><rect x="517.00" y="172.25" width="15.80" height="19.05" fill="#F0F0FC"/><rect x="532.50" y="172.25" width="15.80" height="19.05" fill="#F8F8FE"/><rect x="548.00" y="172.25" width="15.80" height="19.05" fill="#FAFAFF"/><rect x="563.50" y="172.25" width="15.80" height="19.05" fill="#FCFCFF"/><rect x="579.00" y="172.25" width="15.80" height="19.05" fill="#FDFDFF"/><rect x="594.50" y="172.25" width="15.80" height="19.05" fill="#EE0000"/><rect x="610.00" y="172.25" width="15.80" height="19.05" fill="#C80030"/><rect x="625.50" y="172.25" width="15.80" height="19.05" fill="#5500AA"/></g>
<rect x="455" y="116" width="186" height="75" fill="none" stroke="#000" stroke-width="2"/>
<g shape-rendering="crispEdges"><rect x="455.50" y="214.50" width="15.72" height="18.80" fill="#5500A8"/><rect x="470.92" y="214.50" width="15.72" height="18.80" fill="#5200AA"/><rect x="486.33" y="214.50" width="15.72" height="18.80" fill="#FF0000"/><rect x="501.75" y="214.50" width="15.72" height="18.80" fill="#FFFFFF"/><rect x="517.17" y="214.50" width="15.72" height="18.80" fill="#FAFAFE"/><rect x="532.58" y="214.50" width="15.72" height="18.80" fill="#FAFAFE"/><rect x="548.00" y="214.50" width="15.72" height="18.80" fill="#FFFFFF"/><rect x="563.42" y="214.50" width="15.72" height="18.80" fill="#FCFCFF"/><rect x="578.83" y="214.50" width="15.72" height="18.80" fill="#FFFFFF"/><rect x="594.25" y="214.50" width="15.72" height="18.80" fill="#F8F8FE"/><rect x="609.67" y="214.50" width="15.72" height="18.80" fill="#F8F8FE"/><rect x="625.08" y="214.50" width="15.72" height="18.80" fill="#F8F8FE"/><rect x="455.50" y="233.00" width="15.72" height="18.80" fill="#FFFFFF"/><rect x="470.92" y="233.00" width="15.72" height="18.80" fill="#F8F8FE"/><rect x="486.33" y="233.00" width="15.72" height="18.80" fill="#FAFAFE"/><rect x="501.75" y="233.00" width="15.72" height="18.80" fill="#CC0000"/><rect x="517.17" y="233.00" width="15.72" height="18.80" fill="#D80020"/><rect x="532.58" y="233.00" width="15.72" height="18.80" fill="#DD0000"/><rect x="548.00" y="233.00" width="15.72" height="18.80" fill="#C8C8FA"/><rect x="563.42" y="233.00" width="15.72" height="18.80" fill="#E2E2FC"/><rect x="578.83" y="233.00" width="15.72" height="18.80" fill="#FCFCFF"/><rect x="594.25" y="233.00" width="15.72" height="18.80" fill="#FFFFFF"/><rect x="609.67" y="233.00" width="15.72" height="18.80" fill="#FFFFFF"/><rect x="625.08" y="233.00" width="15.72" height="18.80" fill="#FCFCFF"/><rect x="455.50" y="251.50" width="15.72" height="18.80" fill="#F2F2FE"/><rect x="470.92" y="251.50" width="15.72" height="18.80" fill="#FFFFFF"/><rect x="486.33" y="251.50" width="15.72" height="18.80" fill="#FFFFFF"/><rect x="501.75" y="251.50" width="15.72" height="18.80" fill="#FAFAFE"/><rect x="517.17" y="251.50" width="15.72" height="18.80" fill="#FAFAFE"/><rect x="532.58" y="251.50" width="15.72" height="18.80" fill="#F8F8FE"/><rect x="548.00" y="251.50" width="15.72" height="18.80" fill="#9494FC"/><rect x="563.42" y="251.50" width="15.72" height="18.80" fill="#9494FC"/><rect x="578.83" y="251.50" width="15.72" height="18.80" fill="#4040F8"/><rect x="594.25" y="251.50" width="15.72" height="18.80" fill="#FFFFFF"/><rect x="609.67" y="251.50" width="15.72" height="18.80" fill="#FCFCFF"/><rect x="625.08" y="251.50" width="15.72" height="18.80" fill="#FFFFFF"/><rect x="455.50" y="270.00" width="15.72" height="18.80" fill="#FFFFFF"/><rect x="470.92" y="270.00" width="15.72" height="18.80" fill="#F8F8FE"/><rect x="486.33" y="270.00" width="15.72" height="18.80" fill="#FFFFFF"/><rect x="501.75" y="270.00" width="15.72" height="18.80" fill="#F8F8FE"/><rect x="517.17" y="270.00" width="15.72" height="18.80" fill="#F6F6FE"/><rect x="532.58" y="270.00" width="15.72" height="18.80" fill="#F8F8FE"/><rect x="548.00" y="270.00" width="15.72" height="18.80" fill="#FFFFFF"/><rect x="563.42" y="270.00" width="15.72" height="18.80" fill="#FCFCFF"/><rect x="578.83" y="270.00" width="15.72" height="18.80" fill="#FFFFFF"/><rect x="594.25" y="270.00" width="15.72" height="18.80" fill="#B8B8FA"/><rect x="609.67" y="270.00" width="15.72" height="18.80" fill="#6464F0"/><rect x="625.08" y="270.00" width="15.72" height="18.80" fill="#A0A0FA"/></g>
<rect x="455.5" y="214.5" width="185" height="74" fill="none" stroke="#333" stroke-width="1"/>
<g shape-rendering="crispEdges"><rect x="455.50" y="313.50" width="15.72" height="19.05" fill="#CC0000"/><rect x="470.92" y="313.50" width="15.72" height="19.05" fill="#CC0000"/><rect x="486.33" y="313.50" width="15.72" height="19.05" fill="#4000CC"/><rect x="501.75" y="313.50" width="15.72" height="19.05" fill="#FFFFFF"/><rect x="517.17" y="313.50" width="15.72" height="19.05" fill="#FFFFFF"/><rect x="532.58" y="313.50" width="15.72" height="19.05" fill="#FFFFFF"/><rect x="548.00" y="313.50" width="15.72" height="19.05" fill="#FFFFFF"/><rect x="563.42" y="313.50" width="15.72" height="19.05" fill="#FFFFFF"/><rect x="578.83" y="313.50" width="15.72" height="19.05" fill="#FFFFFF"/><rect x="594.25" y="313.50" width="15.72" height="19.05" fill="#FFFFFF"/><rect x="609.67" y="313.50" width="15.72" height="19.05" fill="#FFFFFF"/><rect x="625.08" y="313.50" width="15.72" height="19.05" fill="#FFFFFF"/><rect x="455.50" y="332.25" width="15.72" height="19.05" fill="#FFFFFF"/><rect x="470.92" y="332.25" width="15.72" height="19.05" fill="#FFFFFF"/><rect x="486.33" y="332.25" width="15.72" height="19.05" fill="#FFFFFF"/><rect x="501.75" y="332.25" width="15.72" height="19.05" fill="#F50000"/><rect x="517.17" y="332.25" width="15.72" height="19.05" fill="#800088"/><rect x="532.58" y="332.25" width="15.72" height="19.05" fill="#CC0000"/><rect x="548.00" y="332.25" width="15.72" height="19.05" fill="#FFFFFF"/><rect x="563.42" y="332.25" width="15.72" height="19.05" fill="#FFFFFF"/><rect x="578.83" y="332.25" width="15.72" height="19.05" fill="#FFFFFF"/><rect x="594.25" y="332.25" width="15.72" height="19.05" fill="#FFFFFF"/><rect x="609.67" y="332.25" width="15.72" height="19.05" fill="#FFFFFF"/><rect x="625.08" y="332.25" width="15.72" height="19.05" fill="#FFFFFF"/><rect x="455.50" y="351.00" width="15.72" height="19.05" fill="#FFFFFF"/><rect x="470.92" y="351.00" width="15.72" height="19.05" fill="#FFFFFF"/><rect x="486.33" y="351.00" width="15.72" height="19.05" fill="#FFFFFF"/><rect x="501.75" y="351.00" width="15.72" height="19.05" fill="#FFFFFF"/><rect x="517.17" y="351.00" width="15.72" height="19.05" fill="#FFFFFF"/><rect x="532.58" y="351.00" width="15.72" height="19.05" fill="#FFFFFF"/><rect x="548.00" y="351.00" width="15.72" height="19.05" fill="#5C00B0"/><rect x="563.42" y="351.00" width="15.72" height="19.05" fill="#D00000"/><rect x="578.83" y="351.00" width="15.72" height="19.05" fill="#D00000"/><rect x="594.25" y="351.00" width="15.72" height="19.05" fill="#FFFFFF"/><rect x="609.67" y="351.00" width="15.72" height="19.05" fill="#FFFFFF"/><rect x="625.08" y="351.00" width="15.72" height="19.05" fill="#FFFFFF"/><rect x="455.50" y="369.75" width="15.72" height="19.05" fill="#FFFFFF"/><rect x="470.92" y="369.75" width="15.72" height="19.05" fill="#FFFFFF"/><rect x="486.33" y="369.75" width="15.72" height="19.05" fill="#FFFFFF"/><rect x="501.75" y="369.75" width="15.72" height="19.05" fill="#FFFFFF"/><rect x="517.17" y="369.75" width="15.72" height="19.05" fill="#FFFFFF"/><rect x="532.58" y="369.75" width="15.72" height="19.05" fill="#FFFFFF"/><rect x="548.00" y="369.75" width="15.72" height="19.05" fill="#FFFFFF"/><rect x="563.42" y="369.75" width="15.72" height="19.05" fill="#FFFFFF"/><rect x="578.83" y="369.75" width="15.72" height="19.05" fill="#FFFFFF"/><rect x="594.25" y="369.75" width="15.72" height="19.05" fill="#CC0000"/><rect x="609.67" y="369.75" width="15.72" height="19.05" fill="#CC0000"/><rect x="625.08" y="369.75" width="15.72" height="19.05" fill="#B4B4FC"/></g>
<rect x="455.5" y="313.5" width="185" height="75" fill="none" stroke="#333" stroke-width="1"/>
<path d="M463.21 388.5 V393.5" stroke="#4d4d4d" stroke-width="1"/>
<text transform="translate(460.51 405.80)" font-size="9.70" class="sm" style="font-kerning:none"> </text><path transform="translate(460.51 405.80) translate(0.000 0) scale(0.00474 -0.00474)" d="M763,0 L583,0 L583,1000 Q420,1000 223,960 L223,1110 Q420,1150 500,1260 Q545,1330 560,1409 L763,1409 Z" stroke="#000" stroke-width="0.05" vector-effect="non-scaling-stroke"/>
<path d="M478.62 388.5 V393.5" stroke="#4d4d4d" stroke-width="1"/>
<text transform="translate(475.93 405.80)" font-size="9.70" class="sm">2</text>
<path d="M494.04 388.5 V393.5" stroke="#4d4d4d" stroke-width="1"/>
<text transform="translate(491.34 405.80)" font-size="9.70" class="sm">3</text>
<path d="M509.46 388.5 V393.5" stroke="#4d4d4d" stroke-width="1"/>
<text transform="translate(506.76 405.80)" font-size="9.70" class="sm">4</text>
<path d="M524.88 388.5 V393.5" stroke="#4d4d4d" stroke-width="1"/>
<text transform="translate(522.18 405.80)" font-size="9.70" class="sm">5</text>
<path d="M540.29 388.5 V393.5" stroke="#4d4d4d" stroke-width="1"/>
<text transform="translate(537.59 405.80)" font-size="9.70" class="sm">6</text>
<path d="M555.71 388.5 V393.5" stroke="#4d4d4d" stroke-width="1"/>
<text transform="translate(553.01 405.80)" font-size="9.70" class="sm">7</text>
<path d="M571.12 388.5 V393.5" stroke="#4d4d4d" stroke-width="1"/>
<text transform="translate(568.43 405.80)" font-size="9.70" class="sm">8</text>
<path d="M586.54 388.5 V393.5" stroke="#4d4d4d" stroke-width="1"/>
<text transform="translate(583.84 405.80)" font-size="9.70" class="sm">9</text>
<path d="M601.96 388.5 V393.5" stroke="#4d4d4d" stroke-width="1"/>
<text transform="translate(596.56 405.80)" font-size="9.70" class="sm" style="font-kerning:none"> 0</text><path transform="translate(596.56 405.80) translate(0.000 0) scale(0.00474 -0.00474)" d="M763,0 L583,0 L583,1000 Q420,1000 223,960 L223,1110 Q420,1150 500,1260 Q545,1330 560,1409 L763,1409 Z" stroke="#000" stroke-width="0.05" vector-effect="non-scaling-stroke"/>
<path d="M617.38 388.5 V393.5" stroke="#4d4d4d" stroke-width="1"/>
<path d="M632.79 388.5 V393.5" stroke="#4d4d4d" stroke-width="1"/>
<text transform="translate(627.40 405.80)" font-size="9.70" class="sm" style="font-kerning:none"> 2</text><path transform="translate(627.40 405.80) translate(0.000 0) scale(0.00474 -0.00474)" d="M763,0 L583,0 L583,1000 Q420,1000 223,960 L223,1110 Q420,1150 500,1260 Q545,1330 560,1409 L763,1409 Z" stroke="#000" stroke-width="0.05" vector-effect="non-scaling-stroke"/>
<path d="M525.20,11.54 C525.67,9.25 527.57,8.57 528.36,11.08 L531.05,18.83 C531.52,20.20 532.47,20.20 533.10,18.38" fill="none" stroke="#000" stroke-width="1.20" stroke-linecap="round"/><path d="M528.83,13.59 L525.44,20.20" fill="none" stroke="#000" stroke-width="1.50" stroke-linecap="round"/><text transform="translate(532.89 12.41)" font-size="11.87">(</text><text transform="translate(537.91 12.41)" font-size="11.87">h</text><text transform="translate(545.58 12.41)" font-size="11.87">)</text><path d="M553.00 14.50 H561.70 M553.00 17.90 H561.70" stroke="#222" stroke-width="1.0"/><text transform="translate(565.33 20.64) scale(1.011 1)" font-size="16.48">0</text>
<path d="M519.33,105.84 C519.74,103.83 521.41,103.23 522.11,105.44 L524.47,112.27 C524.88,113.47 525.72,113.47 526.27,111.87" fill="none" stroke="#000" stroke-width="1.05" stroke-linecap="round"/><path d="M522.52,107.65 L519.54,113.47" fill="none" stroke="#000" stroke-width="1.32" stroke-linecap="round"/><text transform="translate(526.71 106.40)" font-size="11.44">(</text><text transform="translate(531.08 106.40)" font-size="11.44">h</text><text transform="translate(538.00 106.40)" font-size="11.44">)</text><path d="M545.00 108.40 H553.00 M545.00 111.50 H553.00" stroke="#222" stroke-width="1.0"/><text transform="translate(556.28 113.65) scale(1.051 1)" font-size="14.79">0.2</text>
<path d="M525.23,203.84 C525.66,201.83 527.40,201.23 528.13,203.44 L530.59,210.27 C531.02,211.47 531.89,211.47 532.47,209.87" fill="none" stroke="#000" stroke-width="1.05" stroke-linecap="round"/><path d="M528.56,205.65 L525.44,211.47" fill="none" stroke="#000" stroke-width="1.32" stroke-linecap="round"/><text transform="translate(532.57 204.24)" font-size="12.19">(</text><text transform="translate(536.92 204.24)" font-size="12.19">h</text><text transform="translate(544.00 204.24)" font-size="12.19">)</text><path d="M550.90 206.40 H559.10 M550.90 209.30 H559.10" stroke="#222" stroke-width="1.0"/><text transform="translate(562.52 211.80)" font-size="15.41" style="font-kerning:none"> </text><path transform="translate(562.52 211.80) translate(0.000 0) scale(0.00752 -0.00752)" d="M763,0 L583,0 L583,1000 Q420,1000 223,960 L223,1110 Q420,1150 500,1260 Q545,1330 560,1409 L763,1409 Z" stroke="#000" stroke-width="0.3" vector-effect="non-scaling-stroke"/>
<path d="M516.84,303.12 C517.29,301.05 519.07,300.44 519.81,302.70 L522.33,309.72 C522.78,310.96 523.67,310.96 524.26,309.31" fill="none" stroke="#000" stroke-width="1.08" stroke-linecap="round"/><path d="M520.25,304.97 L517.06,310.96" fill="none" stroke="#000" stroke-width="1.35" stroke-linecap="round"/><text transform="translate(524.10 303.55)" font-size="11.66">(</text><text transform="translate(528.42 303.55)" font-size="11.66">h</text><text transform="translate(535.34 303.55)" font-size="11.66">)</text><path d="M543.00 306.00 H550.80 M543.00 309.30 H550.80" stroke="#222" stroke-width="1.0"/><text transform="translate(554.35 311.55) scale(0.980 1)" font-size="15.49" style="font-kerning:none"> 00</text><path transform="translate(554.35 311.55) scale(0.980 1) translate(0.000 0) scale(0.00756 -0.00756)" d="M763,0 L583,0 L583,1000 Q420,1000 223,960 L223,1110 Q420,1150 500,1260 Q545,1330 560,1409 L763,1409 Z" stroke="#000" stroke-width="0.3" vector-effect="non-scaling-stroke"/>
<defs><linearGradient id="cb" x1="0" y1="0" x2="0" y2="1"><stop offset="0.000" stop-color="rgb(222, 26, 54)"/><stop offset="0.020" stop-color="rgb(224, 25, 50)"/><stop offset="0.040" stop-color="rgb(226, 25, 45)"/><stop offset="0.060" stop-color="rgb(229, 25, 42)"/><stop offset="0.080" stop-color="rgb(231, 24, 37)"/><stop offset="0.100" stop-color="rgb(234, 24, 34)"/><stop offset="0.120" stop-color="rgb(236, 24, 30)"/><stop offset="0.140" stop-color="rgb(238, 24, 25)"/><stop offset="0.160" stop-color="rgb(240, 24, 24)"/><stop offset="0.180" stop-color="rgb(240, 24, 24)"/><stop offset="0.200" stop-color="rgb(240, 24, 24)"/><stop offset="0.220" stop-color="rgb(240, 24, 24)"/><stop offset="0.240" stop-color="rgb(240, 24, 24)"/><stop offset="0.260" stop-color="rgb(240, 24, 24)"/><stop offset="0.280" stop-color="rgb(240, 24, 24)"/><stop offset="0.300" stop-color="rgb(240, 24, 24)"/><stop offset="0.320" stop-color="rgb(240, 24, 24)"/><stop offset="0.340" stop-color="rgb(231, 24, 30)"/><stop offset="0.360" stop-color="rgb(216, 24, 41)"/><stop offset="0.380" stop-color="rgb(198, 24, 57)"/><stop offset="0.400" stop-color="rgb(179, 24, 76)"/><stop offset="0.420" stop-color="rgb(160, 24, 96)"/><stop offset="0.440" stop-color="rgb(140, 24, 121)"/><stop offset="0.460" stop-color="rgb(121, 24, 147)"/><stop offset="0.480" stop-color="rgb(105, 24, 167)"/><stop offset="0.500" stop-color="rgb(92, 24, 184)"/><stop offset="0.520" stop-color="rgb(78, 24, 200)"/><stop offset="0.540" stop-color="rgb(66, 24, 213)"/><stop offset="0.560" stop-color="rgb(56, 24, 223)"/><stop offset="0.580" stop-color="rgb(45, 24, 234)"/><stop offset="0.600" stop-color="rgb(36, 24, 243)"/><stop offset="0.620" stop-color="rgb(30, 24, 249)"/><stop offset="0.640" stop-color="rgb(24, 24, 255)"/><stop offset="0.660" stop-color="rgb(35, 35, 255)"/><stop offset="0.680" stop-color="rgb(47, 47, 255)"/><stop offset="0.700" stop-color="rgb(60, 60, 255)"/><stop offset="0.720" stop-color="rgb(73, 73, 254)"/><stop offset="0.740" stop-color="rgb(86, 86, 253)"/><stop offset="0.760" stop-color="rgb(98, 98, 252)"/><stop offset="0.780" stop-color="rgb(111, 111, 251)"/><stop offset="0.800" stop-color="rgb(125, 125, 250)"/><stop offset="0.820" stop-color="rgb(133, 133, 250)"/><stop offset="0.840" stop-color="rgb(143, 143, 250)"/><stop offset="0.860" stop-color="rgb(152, 152, 250)"/><stop offset="0.880" stop-color="rgb(161, 161, 250)"/><stop offset="0.900" stop-color="rgb(170, 170, 250)"/><stop offset="0.920" stop-color="rgb(184, 184, 251)"/><stop offset="0.940" stop-color="rgb(200, 200, 252)"/><stop offset="0.960" stop-color="rgb(214, 214, 253)"/><stop offset="0.980" stop-color="rgb(230, 230, 254)"/><stop offset="1.000" stop-color="rgb(245, 245, 255)"/></linearGradient></defs>
<rect x="651.5" y="120" width="13" height="67.5" fill="url(#cb)" stroke="#222" stroke-width="1"/>
<path d="M664.5 187.40 H669.5" stroke="#4d4d4d" stroke-width="1"/>
<text transform="translate(673.80 190.80)" font-size="9.80" class="sm">0</text>
<path d="M664.5 173.60 H669.5" stroke="#4d4d4d" stroke-width="1"/>
<text transform="translate(673.80 177.00)" font-size="9.80" class="sm">2</text>
<path d="M664.5 160.40 H669.5" stroke="#4d4d4d" stroke-width="1"/>
<text transform="translate(673.80 163.80)" font-size="9.80" class="sm">4</text>
<path d="M664.5 146.80 H669.5" stroke="#4d4d4d" stroke-width="1"/>
<text transform="translate(673.80 150.20)" font-size="9.80" class="sm">6</text>
<path d="M664.5 133.50 H669.5" stroke="#4d4d4d" stroke-width="1"/>
<text transform="translate(673.80 136.90)" font-size="9.80" class="sm">8</text>
<path d="M664.5 120.00 H669.5" stroke="#4d4d4d" stroke-width="1"/>
<text transform="translate(673.80 123.40)" font-size="9.80" class="sm" style="font-kerning:none"> 0</text><path transform="translate(673.80 123.40) translate(0.000 0) scale(0.00479 -0.00479)" d="M763,0 L583,0 L583,1000 Q420,1000 223,960 L223,1110 Q420,1150 500,1260 Q545,1330 560,1409 L763,1409 Z" stroke="#000" stroke-width="0.05" vector-effect="non-scaling-stroke"/>
</svg></body></html>
